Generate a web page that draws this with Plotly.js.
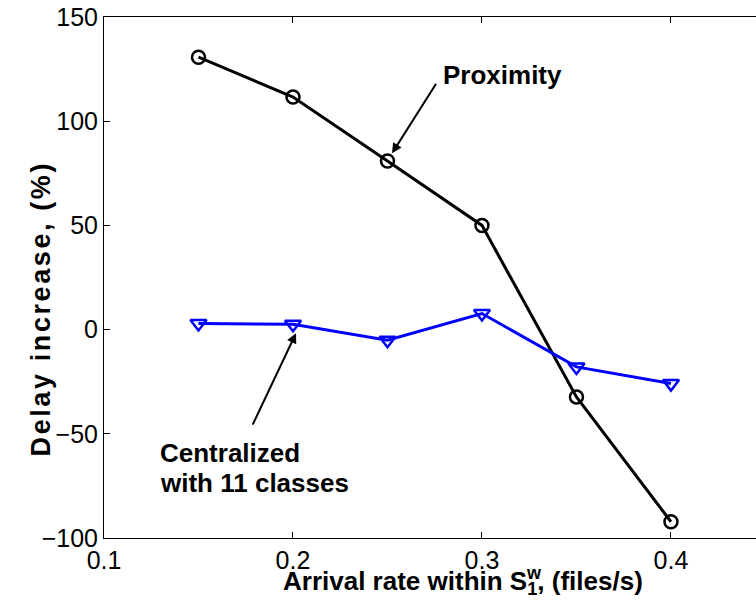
<!DOCTYPE html>
<html>
<head>
<meta charset="utf-8">
<script src="https://cdn.plot.ly/plotly-3.0.1.min.js"></script>
<style>html,body{margin:0;padding:0;background:#fff;}#chart{width:756px;height:606px;}</style>
</head>
<body>
<div id="chart"></div>
<script>
const arrivalRate = [0.15, 0.2, 0.25, 0.3, 0.35, 0.4];
const proximity = [130.7, 111.6, 80.9, 50.0, -32.3, -92.2];
const centralized = [2.9, 2.6, -5.1, 7.7, -17.9, -25.9];
const xTicks = [0.1, 0.2, 0.3, 0.4];
const xTickText = ['0.1', '0.2', '0.3', '0.4'];
const yTicks = [-100, -50, 0, 50, 100, 150];
const yTickText = ['\u2212100', '\u221250', '0', '50', '100', '150'];

const FONT = 'Liberation Sans, Arial, Helvetica, sans-serif';

const traces = [
  {
    x: arrivalRate, y: proximity, type: 'scatter', mode: 'lines+markers',
    line: {color: '#000000', width: 3},
    marker: {symbol: 'circle-open', size: 13, color: '#000000', line: {width: 2.5, color: '#000000'}},
    name: 'Proximity', showlegend: false
  },
  {
    x: arrivalRate, y: centralized, type: 'scatter', mode: 'lines+markers',
    line: {color: '#0000ff', width: 3},
    marker: {symbol: 'triangle-down-open', size: 14, color: '#0000ff', line: {width: 2.5, color: '#0000ff'}},
    name: 'Centralized with 11 classes', showlegend: false
  }
];

const layout = {
  width: 756, height: 606,
  margin: {l: 104, r: 0, t: 16.5, b: 68},
  paper_bgcolor: '#ffffff', plot_bgcolor: '#ffffff',
  font: {family: FONT, size: 25, color: '#000000'},
  xaxis: {
    range: [0.1, 0.445], tickvals: xTicks, ticktext: xTickText,
    ticks: 'inside', ticklen: 6, tickwidth: 1, tickcolor: '#000',
    showline: true, linecolor: '#000', linewidth: 1, mirror: 'ticks',
    showgrid: false, zeroline: false,
    tickfont: {family: FONT, size: 25, color: '#000'}
  },
  yaxis: {
    range: [-100, 150], tickvals: yTicks, ticktext: yTickText,
    ticks: 'inside', ticklen: 6, tickwidth: 1, tickcolor: '#000',
    showline: true, linecolor: '#000', linewidth: 1, mirror: false,
    showgrid: false, zeroline: false,
    tickfont: {family: FONT, size: 25, color: '#000'}
  },
  annotations: [
    {xref: 'paper', yref: 'paper', x: 0, y: 0.44, xshift: -80, textangle: -90,
     text: '<b>Delay increase, (%)</b>', showarrow: false, font: {family: FONT, size: 27, color: '#000'}},
    {xref: 'paper', yref: 'paper', x: 0.551, y: 0, yshift: -44, yanchor: 'middle',
     text: '<b>Arrival rate within S<sub>1</sub>, (files/s)</b>', showarrow: false, font: {family: FONT, size: 26, color: '#000'}},
    {xref: 'paper', yref: 'paper', x: (534 - 104) / 652, y: 0, yshift: -35, yanchor: 'middle',
     text: '<b>w</b>', showarrow: false, font: {family: FONT, size: 18, color: '#000'}},
    {xref: 'x', yref: 'y', x: 0.3106, y: 122, text: '<b>Proximity</b>', showarrow: false,
     font: {family: FONT, size: 26, color: '#000'}},
    {xref: 'x', yref: 'y', x: 0.2524, y: 84.6, ax: 45, ay: -71, text: '', showarrow: true,
     arrowhead: 2, arrowsize: 1, arrowwidth: 2, arrowcolor: '#000'},
    {xref: 'x', yref: 'y', x: 0.1286, y: -59.3, xanchor: 'left', align: 'left',
     text: '<b>Centralized</b>', showarrow: false,
     font: {family: FONT, size: 26, color: '#000'}},
    {xref: 'x', yref: 'y', x: 0.1286, y: -73.7, xanchor: 'left', align: 'left',
     text: '<b>with 11 classes</b>', showarrow: false,
     font: {family: FONT, size: 26, color: '#000'}},
    {xref: 'x', yref: 'y', x: 0.2016, y: -1.7, ax: -44, ay: 93, text: '', showarrow: true,
     arrowhead: 2, arrowsize: 1, arrowwidth: 2, arrowcolor: '#000'}
  ]
};

Plotly.newPlot('chart', traces, layout, {staticPlot: true, displayModeBar: false}).then(function (gd) {
  // widen the letter spacing of the rotated y title to match the reference
  const texts = gd.querySelectorAll('.annotation-text');
  texts.forEach(function (t) {
    if (t.textContent.indexOf('Delay') === 0) {
      t.style.letterSpacing = '2.6px';
    }
  });
});
</script>
</body>
</html>
